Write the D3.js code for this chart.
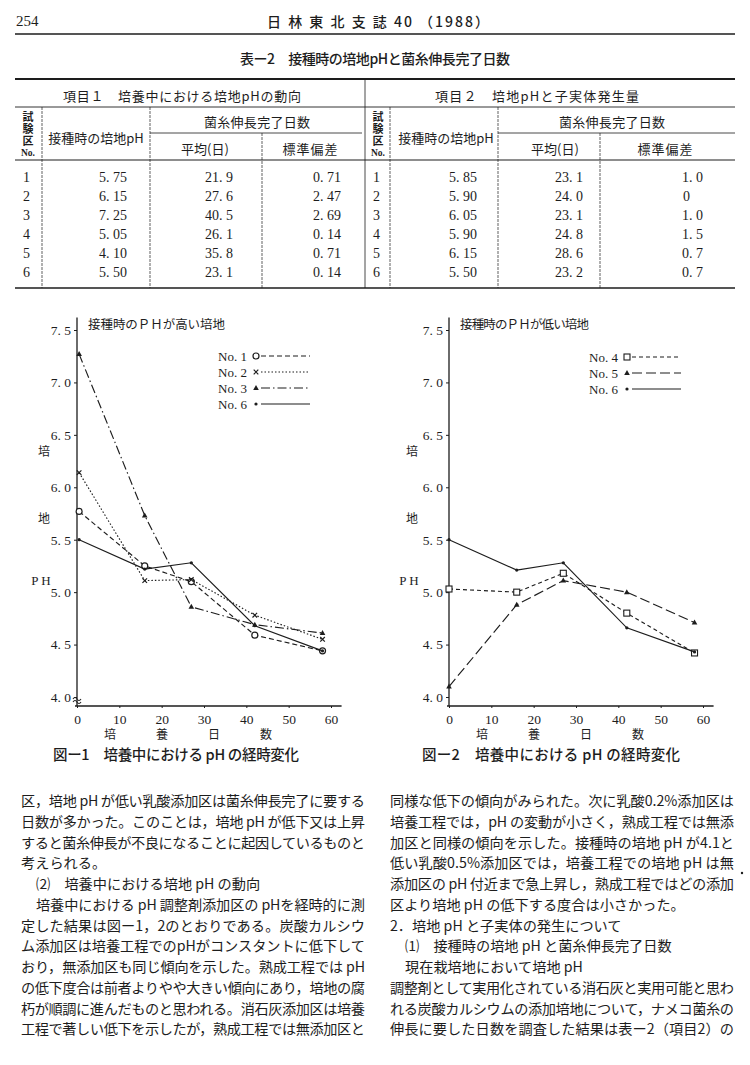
<!DOCTYPE html>
<html><head><meta charset="utf-8">
<script src="https://cdn.jsdelivr.net/npm/d3@7"></script>
<style>body{margin:0;background:#fff;}svg{display:block;}</style>
</head><body>
<svg id="page" width="750" height="1065"></svg>
<script>
// ---------------- data ----------------
const fig1Days = [0.5, 16, 27, 42, 58];
const fig2Days = [0, 16, 27, 42, 58];
const fig1No1 = [5.77, 5.25, 5.10, 4.59, 4.44];
const fig1No2 = [6.14, 5.11, 5.12, 4.78, 4.55];
const fig1No3 = [7.27, 5.73, 4.86, 4.69, 4.61];
const fig1No6 = [5.50, 5.22, 5.28, 4.68, 4.44];
const fig2No4 = [5.03, 5.00, 5.18, 4.80, 4.42];
const fig2No5 = [4.10, 4.88, 5.11, 5.00, 4.71];
const fig2No6 = [5.50, 5.21, 5.28, 4.66, 4.43];
const yTicks = [4.0, 4.5, 5.0, 5.5, 6.0, 6.5, 7.0, 7.5];
const xTicks = [0, 10, 20, 30, 40, 50, 60];
const fig1Labels = ["No. 1", "No. 2", "No. 3", "No. 6"];
const fig2Labels = ["No. 4", "No. 5", "No. 6"];

const tableNo = [1, 2, 3, 4, 5, 6];
const t1pH = [5.75, 6.15, 7.25, 5.05, 4.10, 5.50];
const t1Mean = [21.9, 27.6, 40.5, 26.1, 35.8, 23.1];
const t1SD = [0.71, 2.47, 2.69, 0.14, 0.71, 0.14];
const t2pH = [5.85, 5.90, 6.05, 5.90, 6.15, 5.50];
const t2Mean = [23.1, 24.0, 23.1, 24.8, 28.6, 23.2];
const t2SD = ["1.0", "0", "1.0", "1.5", "0.7", "0.7"];

const leftText = [
  ["区，培地 pH が低い乳酸添加区は菌糸伸長完了に要する", 1, 0],
  ["日数が多かった。このことは，培地 pH が低下又は上昇", 1, 0],
  ["すると菌糸伸長が不良になることに起因しているものと", 1, 0],
  ["考えられる。", 0, 0],
  ["⑵　培養中における培地 pH の動向", 0, 1],
  ["培養中における pH 調整剤添加区の pHを経時的に測", 1, 1],
  ["定した結果は図ー1，2のとおりである。炭酸カルシウ", 1, 0],
  ["ム添加区は培養工程でのpHがコンスタントに低下して", 1, 0],
  ["おり，無添加区も同じ傾向を示した。熟成工程では pH", 1, 0],
  ["の低下度合は前者よりやや大きい傾向にあり，培地の腐", 1, 0],
  ["朽が順調に進んだものと思われる。消石灰添加区は培養", 1, 0],
  ["工程で著しい低下を示したが，熟成工程では無添加区と", 1, 0]
];
const rightText = [
  ["同様な低下の傾向がみられた。次に乳酸0.2%添加区は", 1, 0],
  ["培養工程では，pH の変動が小さく，熟成工程では無添", 1, 0],
  ["加区と同様の傾向を示した。接種時の培地 pH が4.1と", 1, 0],
  ["低い乳酸0.5%添加区では，培養工程での培地 pH は無", 1, 0],
  ["添加区の pH 付近まで急上昇し，熟成工程ではどの添加", 1, 0],
  ["区より培地 pH の低下する度合は小さかった。", 0, 0],
  ["2．培地 pH と子実体の発生について", 0, 0],
  ["⑴　接種時の培地 pH と菌糸伸長完了日数", 0, 1],
  ["現在栽培地において培地 pH", 0, 1],
  ["調整剤として実用化されている消石灰と実用可能と思わ", 1, 0],
  ["れる炭酸カルシウムの添加培地について，ナメコ菌糸の", 1, 0],
  ["伸長に要した日数を調査した結果は表ー2（項目2）の", 1, 0]
];

// ---------------- helpers ----------------
const svg = d3.select("#page");
const INK = "#1d1d1d";
const SANS = "'Noto Sans CJK JP', 'Noto Sans', sans-serif";
const SERIF = "'Liberation Serif', 'DejaVu Serif', serif";

function txt(x, y, s, o = {}) {
  const t = svg.append("text").attr("x", x).attr("y", y).text(s)
    .attr("font-family", o.family || SANS).attr("font-size", o.size || 13)
    .attr("font-weight", o.weight || "normal").attr("fill", INK)
    .attr("text-anchor", o.anchor || "start").attr("dominant-baseline", "central");
  if (o.len) t.attr("textLength", o.len).attr("lengthAdjust", "spacing");
  return t;
}
function hline(x1, x2, y, w = 1, dash = null) {
  const l = svg.append("line").attr("x1", x1).attr("x2", x2).attr("y1", y).attr("y2", y)
    .attr("stroke", INK).attr("stroke-width", w);
  if (dash) l.attr("stroke-dasharray", dash);
}
function vline(x, y1, y2, w = 1, dash = null) {
  const l = svg.append("line").attr("x1", x).attr("x2", x).attr("y1", y1).attr("y2", y2)
    .attr("stroke", INK).attr("stroke-width", w);
  if (dash) l.attr("stroke-dasharray", dash);
}
const fmt = (p) => (v) => d3.format("." + p + "f")(v).replace(".", ". ");

// ---------------- header ----------------
txt(16, 21, "254", {family: SERIF, size: 15});
txt(378, 21, "日 林 東 北 支 誌 40 （1988）", {anchor: "middle", size: 14, weight: 500, len: 222});
hline(15, 735, 34, 1.3);
txt(375, 58, "表ー2　接種時の培地pHと菌糸伸長完了日数", {anchor: "middle", size: 14, weight: 500, len: 270});

// ---------------- table ----------------
hline(15, 735, 79, 2.2);
hline(15, 735, 107, 0.9);
hline(150, 362, 133, 0.8);
hline(498, 735, 133, 0.8);
hline(15, 735, 160, 1);
hline(15, 735, 288, 1.6);
vline(365, 79, 288, 0.8);
[42, 150, 390, 498].forEach(x => vline(x, 107, 288, 0.7, "3,1"));
[262, 600].forEach(x => vline(x, 133, 288, 0.7, "3,1"));

txt(182, 95, "項目１　培養中における培地pHの動向", {anchor: "middle", size: 13, len: 238});
txt(537, 95, "項目２　培地pHと子実体発生量", {anchor: "middle", size: 13, len: 204});

function tableHead(noX, pHX, grpX, meanX, sdX) {
  svg.append("text").attr("x", noX).attr("y", 111).text("試験区")
    .attr("writing-mode", "vertical-rl").style("writing-mode", "vertical-rl")
    .attr("font-family", SANS).attr("font-size", 11).attr("font-weight", 700)
    .attr("fill", INK).attr("text-anchor", "start")
    .attr("textLength", 35).attr("lengthAdjust", "spacing");
  txt(noX, 153, "No.", {anchor: "middle", size: 9.5, family: SERIF, weight: 700});
  txt(pHX, 137, "接種時の培地pH", {anchor: "middle", size: 13});
  txt(grpX, 121, "菌糸伸長完了日数", {anchor: "middle", size: 13, len: 106});
  txt(meanX, 148, "平均(日)", {anchor: "middle", size: 13});
  txt(sdX, 148, "標準偏差", {anchor: "middle", size: 13, len: 55});
}
tableHead(28, 96, 257, 205, 310);
tableHead(378, 446, 612, 555, 665);

const rowY = d3.scalePoint().domain(tableNo).range([177, 272.5]);
const numO = {family: SERIF, size: 14};
tableNo.forEach((n, i) => {
  const y = rowY(n);
  txt(23, y, String(n), numO);
  txt(127, y, fmt(2)(t1pH[i]), {...numO, anchor: "end"});
  txt(233, y, fmt(1)(t1Mean[i]), {...numO, anchor: "end"});
  txt(341, y, fmt(2)(t1SD[i]), {...numO, anchor: "end"});
  txt(373, y, String(n), numO);
  txt(477, y, fmt(2)(t2pH[i]), {...numO, anchor: "end"});
  txt(583, y, fmt(1)(t2Mean[i]), {...numO, anchor: "end"});
  const sd = t2SD[i];
  if (sd.includes(".")) txt(703, y, sd.replace(".", ". "), {...numO, anchor: "end"});
  else txt(683, y, sd, numO);
});

// ---------------- charts ----------------
function marker(g, type, x, y) {
  if (type === "circle") g.append("circle").attr("cx", x).attr("cy", y).attr("r", 3)
    .attr("fill", "#fff").attr("stroke", INK).attr("stroke-width", 1.2);
  else if (type === "square") g.append("rect").attr("x", x - 3).attr("y", y - 3).attr("width", 6).attr("height", 6)
    .attr("fill", "#fff").attr("stroke", INK).attr("stroke-width", 1.1);
  else if (type === "cross") g.append("path").attr("d", `M${x-2.3},${y-2.3}L${x+2.3},${y+2.3}M${x-2.3},${y+2.3}L${x+2.3},${y-2.3}`)
    .attr("stroke", INK).attr("stroke-width", 1.2);
  else if (type === "tri") g.append("path").attr("d", `M${x},${y-3}L${x+2.8},${y+2}L${x-2.8},${y+2}Z`).attr("fill", INK);
  else if (type === "dot") g.append("circle").attr("cx", x).attr("cy", y).attr("r", 1.6).attr("fill", INK);
}

function chart(o) {
  const g = svg.append("g");
  const x = d3.scaleLinear().domain([0, 60]).range([o.x0, o.x0 + 254]);
  const y = d3.scaleLinear().domain([4.0, 7.5]).range([697, 330]);
  const baseY = 706;
  const ya = g.append("g").attr("transform", `translate(${o.x0},0)`)
    .call(d3.axisLeft(y).tickValues(yTicks).tickFormat(fmt(1)).tickSize(3).tickPadding(3));
  ya.select(".domain").remove();
  ya.selectAll("line").attr("stroke", INK);
  ya.selectAll("text").attr("font-family", SERIF).attr("font-size", 13.5).attr("fill", INK);
  g.append("line").attr("x1", o.x0).attr("x2", o.x0).attr("y1", y(7.62)).attr("y2", baseY)
    .attr("stroke", INK).attr("stroke-width", 1.3);
  const xa = g.append("g").attr("transform", `translate(0,${baseY})`)
    .call(d3.axisBottom(x).tickValues(xTicks).tickFormat(d3.format("d")).tickSize(2).tickPadding(6));
  xa.select(".domain").remove();
  xa.selectAll("line").attr("stroke", INK);
  xa.selectAll("text").attr("font-family", SERIF).attr("font-size", 13.5).attr("fill", INK);
  g.append("line").attr("x1", o.x0 - 2).attr("x2", x(62.5)).attr("y1", baseY).attr("y2", baseY)
    .attr("stroke", INK).attr("stroke-width", 1.4);
  if (o.brk) {
    g.append("path").attr("d", `M${o.x0-4},${y(4.0)+2} q2,-3 4,0 t4,0 M${o.x0-4},${y(4.0)+5} q2,-3 4,0 t4,0`)
      .attr("fill", "#fff").attr("stroke", INK).attr("stroke-width", 1.1);
  }
  txt(o.ytx, 450, "培", {anchor: "middle", size: 12});
  txt(o.ytx, 517, "地", {anchor: "middle", size: 12});
  txt(o.ytx - 3, 580, "P H", {anchor: "middle", size: 13, family: SERIF});
  ["培", "養", "日", "数"].forEach((c, i) => txt(o.x0 + 33 + i * 52, 733, c, {anchor: "middle", size: 12}));
  txt(o.capX, 753, o.caption, {size: 14.5, weight: 500, len: o.capLen});
  txt(o.x0 + 11, 323, o.title, {size: 12.5, len: o.titleLen});
  const line = d3.line().x((d, i) => x(o.days[i])).y(d => y(d));
  o.series.forEach((s, k) => {
    g.append("path").datum(s.v).attr("d", line).attr("fill", "none")
      .attr("stroke", INK).attr("stroke-width", 1.15).attr("stroke-dasharray", s.dash);
    s.v.forEach((v, i) => marker(g, s.m, x(o.days[i]), y(v)));
    const ly = o.legY + k * 16;
    txt(o.legX, ly, s.name, {family: SERIF, size: 13});
    marker(g, s.m, o.legX + 38, ly);
    g.append("line").attr("x1", o.legX + 43).attr("x2", o.legX + 92).attr("y1", ly).attr("y2", ly)
      .attr("stroke", INK).attr("stroke-width", 1.15).attr("stroke-dasharray", s.dash);
  });
}

chart({
  x0: 77, ytx: 44, brk: true, days: fig1Days,
  caption: "図ー1　培養中における pH の経時変化", capX: 53, capLen: 246,
  title: "接種時のＰＨが高い培地", titleLen: 137,
  legX: 218, legY: 356,
  series: [
    {name: fig1Labels[0], v: fig1No1, m: "circle", dash: "5,3"},
    {name: fig1Labels[1], v: fig1No2, m: "cross", dash: "1.5,2"},
    {name: fig1Labels[2], v: fig1No3, m: "tri", dash: "9,3,1.5,3"},
    {name: fig1Labels[3], v: fig1No6, m: "dot", dash: null}
  ]
});
chart({
  x0: 449, ytx: 412, brk: false, days: fig2Days,
  caption: "図ー2　培養中における pH の経時変化", capX: 422, capLen: 258,
  title: "接種時のＰＨが低い培地", titleLen: 129,
  legX: 589, legY: 357,
  series: [
    {name: fig2Labels[0], v: fig2No4, m: "square", dash: "4,3"},
    {name: fig2Labels[1], v: fig2No5, m: "tri", dash: "10,4"},
    {name: fig2Labels[2], v: fig2No6, m: "dot", dash: null}
  ]
});

// ---------------- body text ----------------
function para(lines, x0, x1, y0, dy) {
  const ch = 15;
  lines.forEach((l, i) => {
    const [s, just, ind] = l;
    const x = x0 + ind * ch;
    const o = {size: 14.2};
    if (just) o.len = x1 - x;
    txt(x, y0 + i * dy, s, o);
  });
}
para(leftText, 21, 365, 800, 20.75);
para(rightText, 390, 734, 800, 20.75);
svg.append("circle").attr("cx", 742).attr("cy", 873).attr("r", 1.2).attr("fill", INK);
</script>
</body></html>
